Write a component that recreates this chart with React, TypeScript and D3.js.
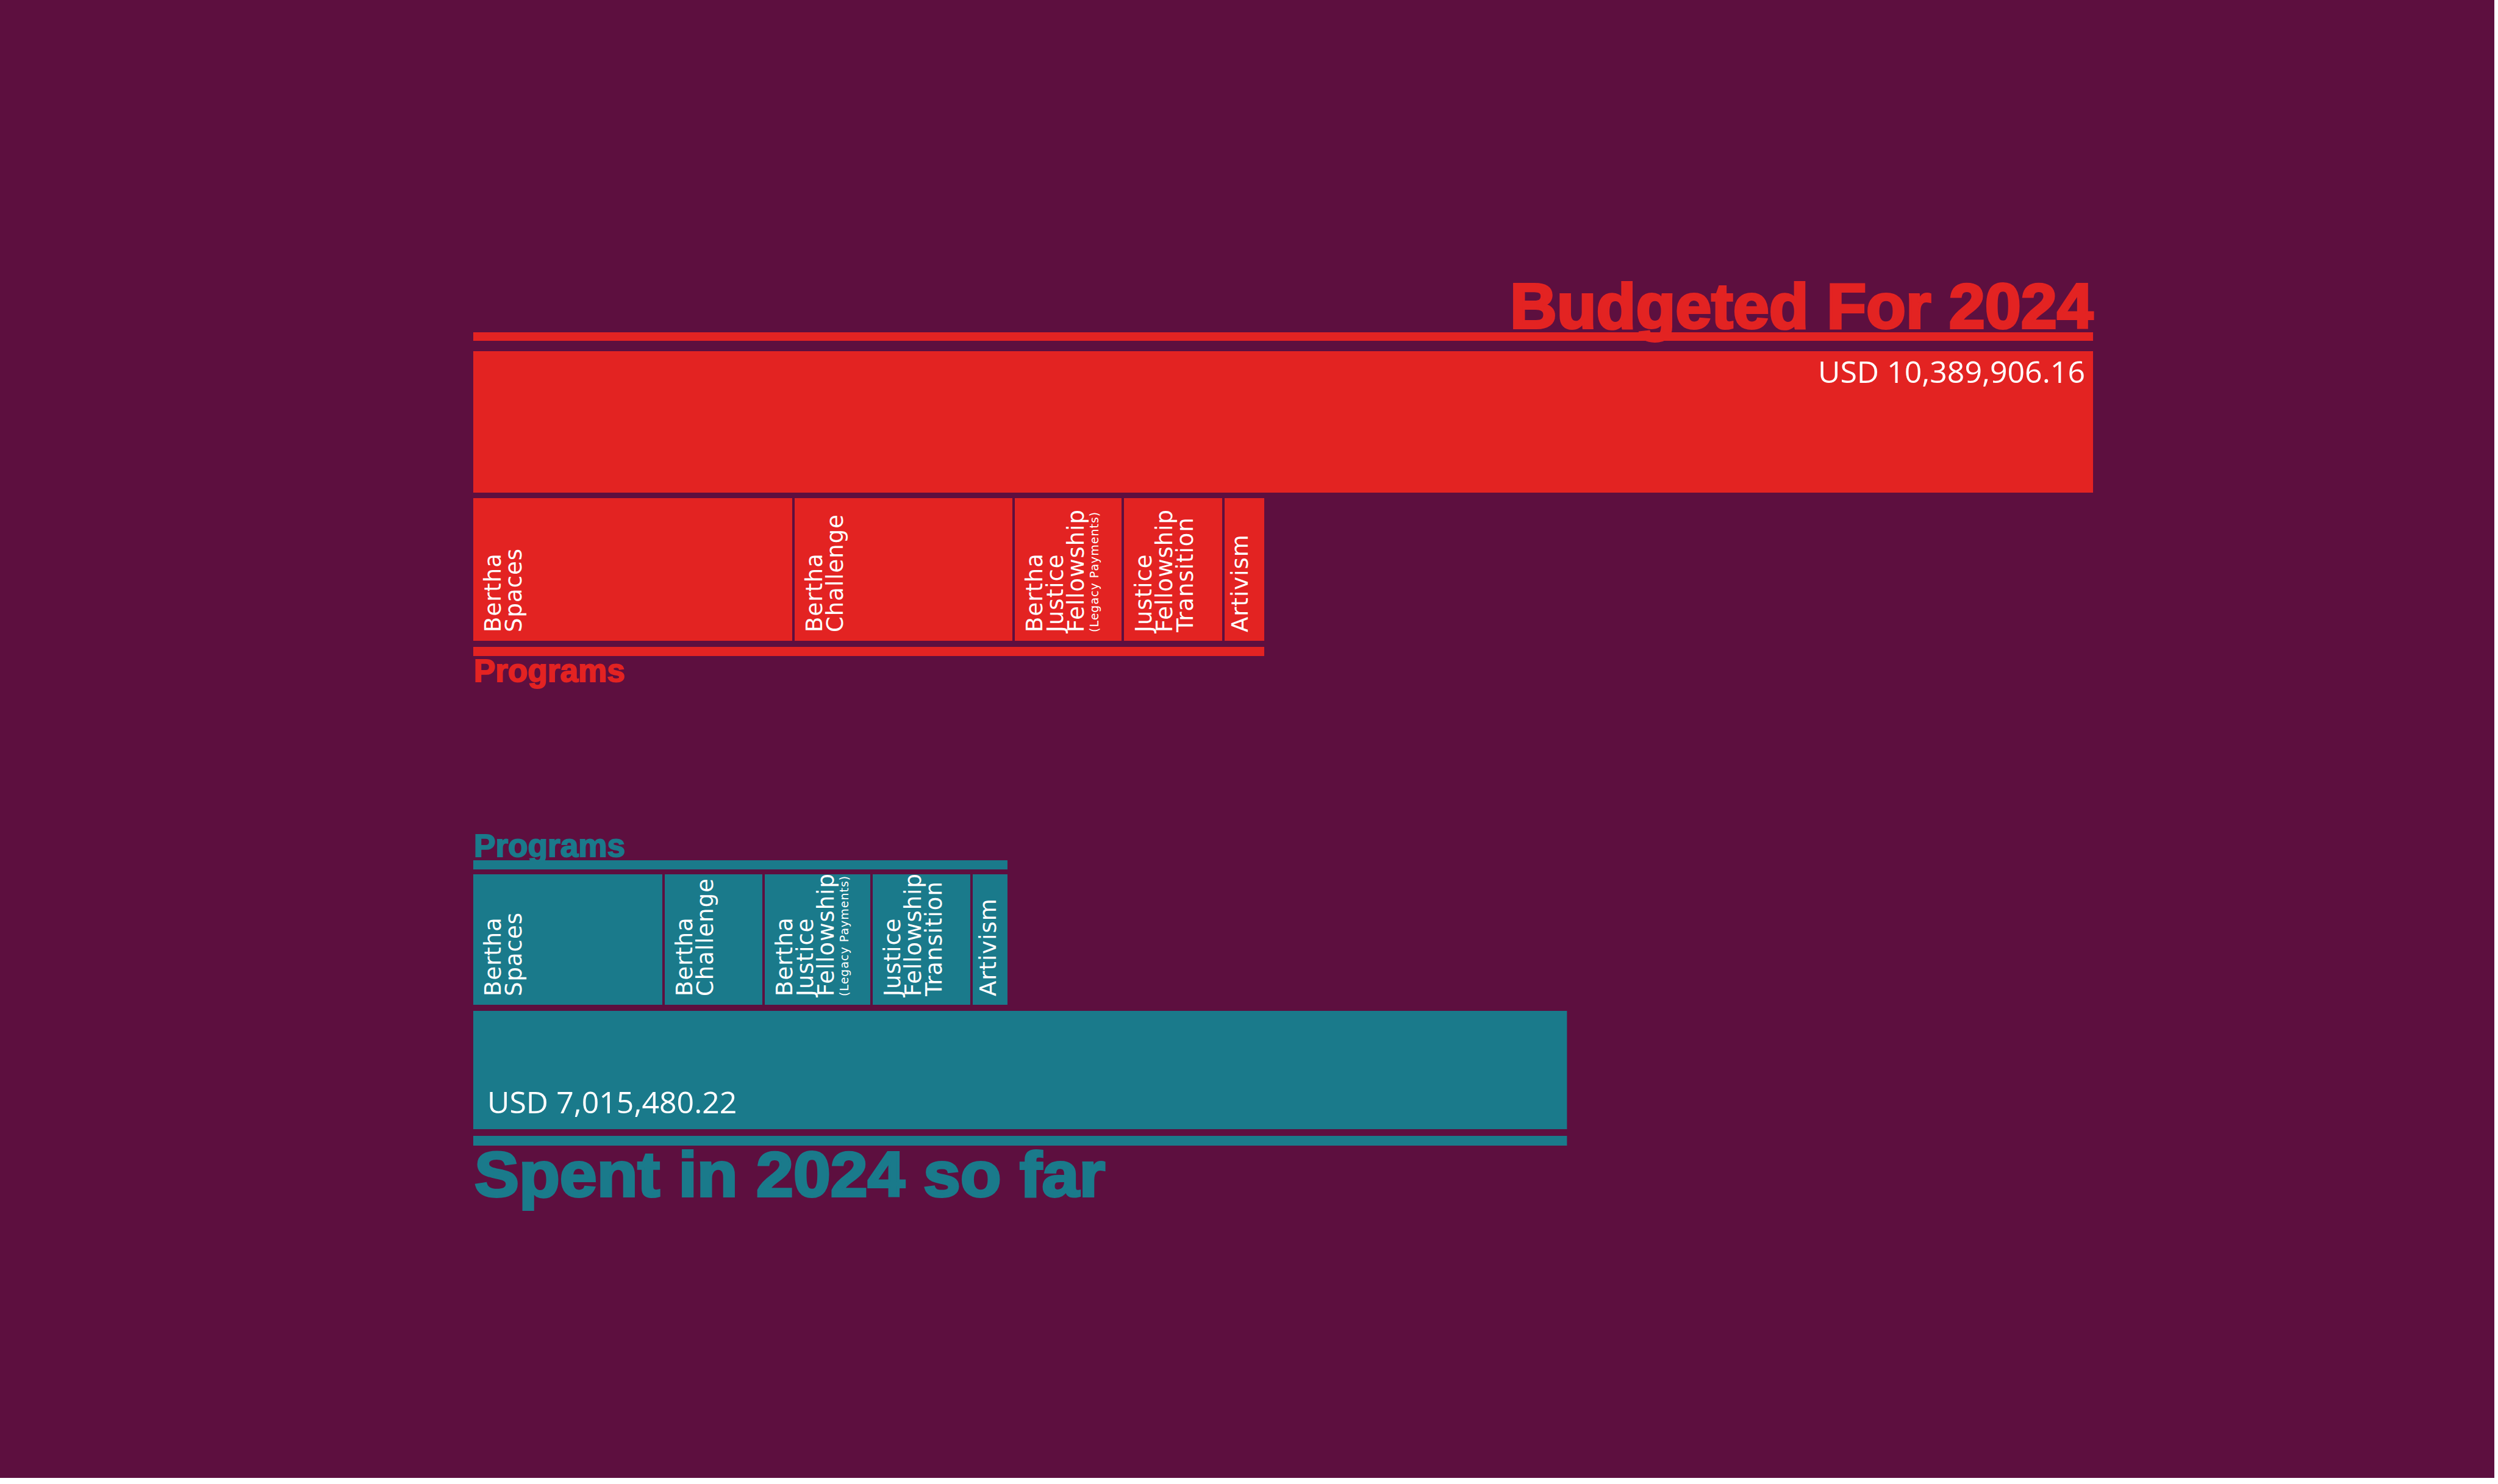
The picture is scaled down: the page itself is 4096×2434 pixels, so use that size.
import * as d3 from 'd3'

const BG = '#5d0f3f'
const RED = '#e32322'
const TEAL = '#1a7a8b'

// program labels, split into lines as in the original
const programLines = [
  ['Bertha', 'Spaces'],
  ['Bertha', 'Challenge'],
  ['Bertha', 'Justice', 'Fellowship'],
  ['Justice', 'Fellowship', 'Transition'],
  ['Artivism'],
]
const programNotes = ['', '', '(Legacy Payments)', '', '']

// USD
const budgetedPrograms = [2061500, 1412200, 700200, 645500, 269900]
const spentPrograms = [1228300, 641500, 692400, 641500, 238600]

const budgetedTotal = 10389906.16
const spentTotal = 7015480.22

const GAP = 4
const fmt = d3.format(',.2f')

function BoxLabel({ x0, w, bottom, lines, note }: { x0: number; w: number; bottom: number; lines: string[]; note: string }) {
  const pad = w < 80 ? 11 : 18
  const cap = 27
  const lh = 34
  return (
    <text
      transform={`translate(${x0 + pad},${bottom - 14}) rotate(-90)`}
      fill="#fff"
      fontFamily="DejaVu Sans"
      fontSize={37}
      letterSpacing={1}
    >
      {lines.map((l, i) => (
        <tspan key={i} x={0} y={cap + i * lh}>{l}</tspan>
      ))}
      {note && (
        <tspan x={0} y={cap + (lines.length - 1) * lh + 24} fontSize={19}>{note}</tspan>
      )}
    </text>
  )
}

function Boxes({ values, x, top, bottom, color }: { values: number[]; x: d3.ScaleLinear<number, number>; top: number; bottom: number; color: string }) {
  const starts = [0, ...Array.from(d3.cumsum(values))].slice(0, values.length)
  return (
    <g>
      {values.map((v, i) => {
        const x0 = x(starts[i])
        const w = x(starts[i] + v) - x0 - GAP
        return (
          <g key={i}>
            <rect x={x0} y={top} width={w} height={bottom - top} fill={color} />
            <BoxLabel x0={x0} w={w} bottom={bottom} lines={programLines[i]} note={programNotes[i]} />
          </g>
        )
      })}
    </g>
  )
}

export default function App() {
  const W = 4090
  const H = 2424
  const x = d3.scaleLinear().domain([0, budgetedTotal]).range([776, 3432])

  const budProgW = x(d3.sum(budgetedPrograms)) - x(0) - GAP
  const spentProgW = x(d3.sum(spentPrograms)) - x(0) - GAP

  const titleFont = { fontFamily: 'Liberation Sans', fontWeight: 700 as const }

  return (
    <svg width={W} height={H} style={{ display: 'block', position: 'absolute', left: 0, top: 0 }}>
      <rect width={W} height={H} fill={BG} />

      {/* budgeted */}
      <text
        x={3432} y={538} textAnchor="end" fontSize={104} fill={RED}
        stroke={RED} strokeWidth={4} textLength={956} lengthAdjust="spacingAndGlyphs"
        {...titleFont}
      >Budgeted For 2024</text>
      <rect x={x(0)} y={545} width={x(budgetedTotal) - x(0)} height={14} fill={RED} />
      <rect x={x(0)} y={576} width={x(budgetedTotal) - x(0)} height={232} fill={RED} />
      <text x={3419} y={628} textAnchor="end" fill="#fff" fontFamily="Open Sans" fontSize={50}>
        USD {fmt(budgetedTotal)}
      </text>
      <Boxes values={budgetedPrograms} x={x} top={817} bottom={1051} color={RED} />
      <rect x={x(0)} y={1061} width={budProgW} height={15} fill={RED} />
      <text
        x={777} y={1118} fontSize={51} fill={RED} stroke={RED} strokeWidth={2}
        textLength={248} lengthAdjust="spacingAndGlyphs" {...titleFont}
      >Programs</text>

      {/* spent */}
      <text
        x={777} y={1405} fontSize={51} fill={TEAL} stroke={TEAL} strokeWidth={2}
        textLength={248} lengthAdjust="spacingAndGlyphs" {...titleFont}
      >Programs</text>
      <rect x={x(0)} y={1411} width={spentProgW} height={15} fill={TEAL} />
      <Boxes values={spentPrograms} x={x} top={1434} bottom={1648} color={TEAL} />
      <rect x={x(0)} y={1658} width={x(spentTotal) - x(0)} height={194} fill={TEAL} />
      <text x={799} y={1826} fill="#fff" fontFamily="Open Sans" fontSize={50}>
        USD {fmt(spentTotal)}
      </text>
      <rect x={x(0)} y={1863} width={x(spentTotal) - x(0)} height={16} fill={TEAL} />
      <text
        x={778} y={1962} fontSize={104} fill={TEAL} stroke={TEAL} strokeWidth={4}
        textLength={1034} lengthAdjust="spacingAndGlyphs" {...titleFont}
      >Spent in 2024 so far</text>
    </svg>
  )
}
